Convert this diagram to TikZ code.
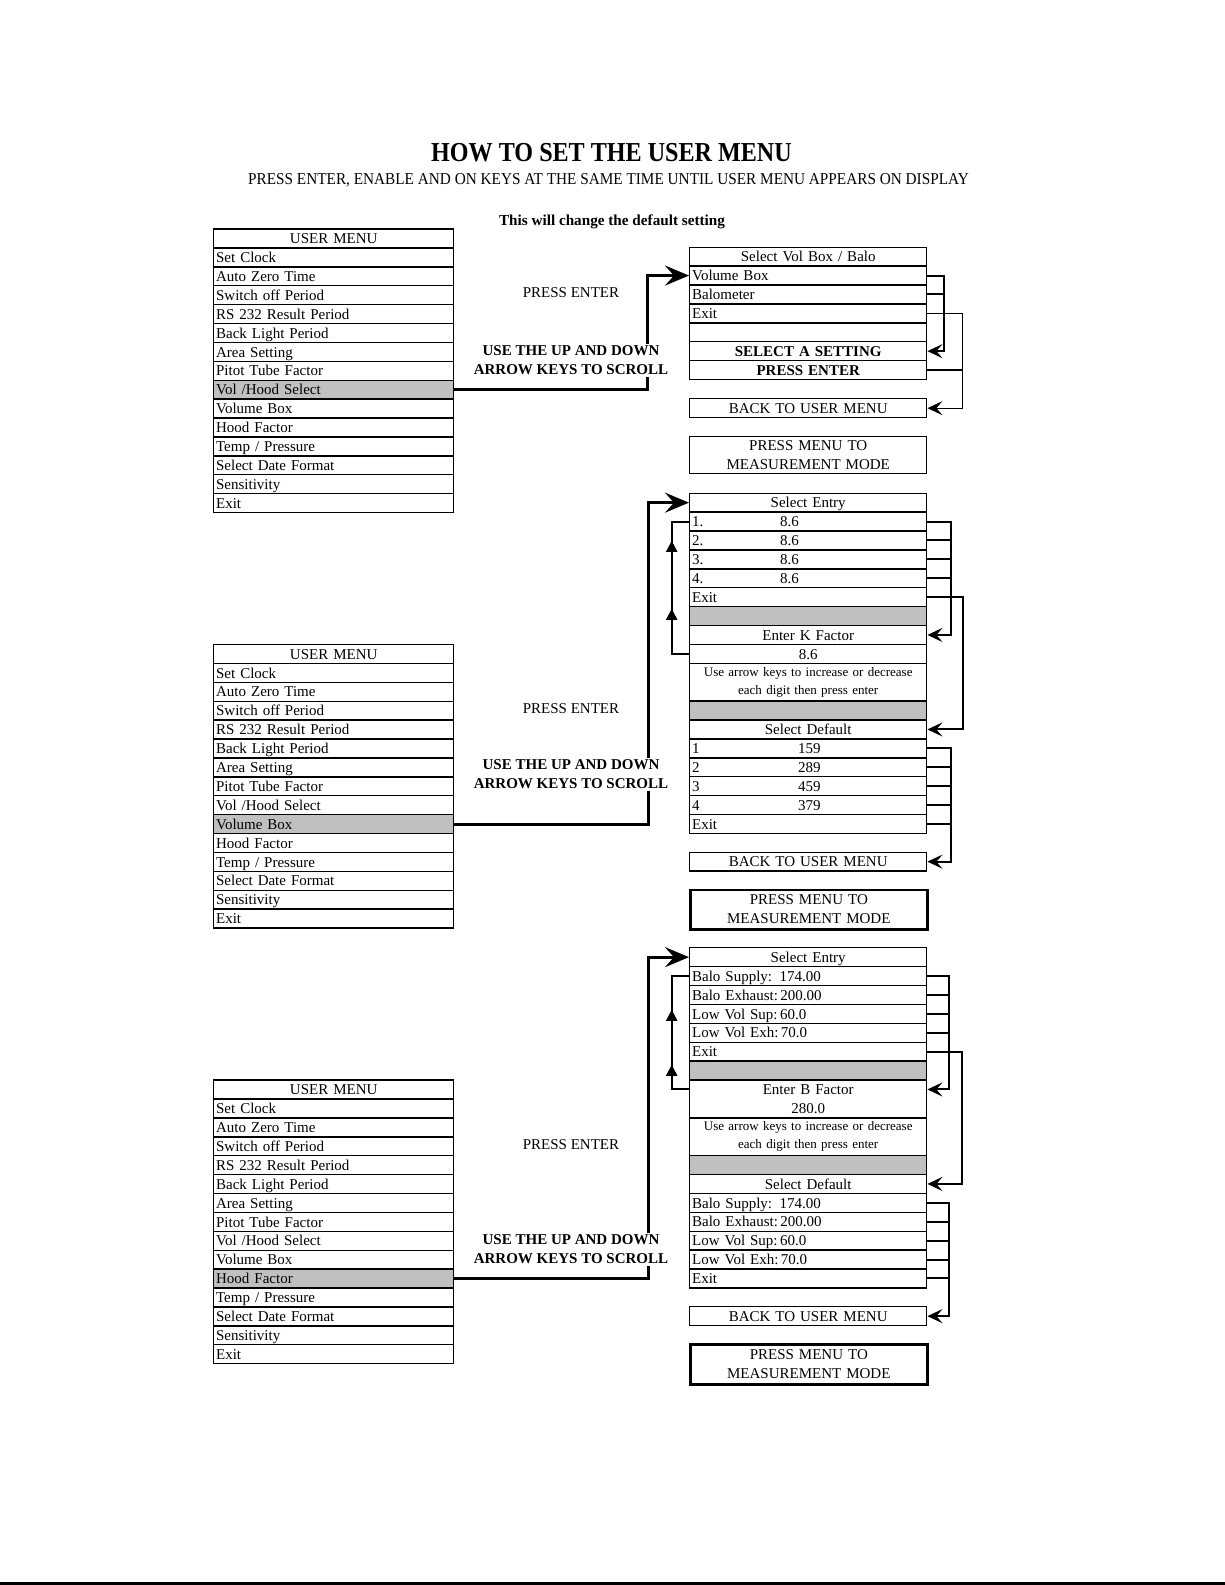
\documentclass[tikz,border=0pt]{standalone}
\usepackage{fontspec}
\setmainfont{Liberation Serif}
\newfontfamily\condserif[FakeStretch=0.88]{Liberation Serif}
\newfontfamily\subserif[FakeStretch=0.92]{Liberation Serif}
\usetikzlibrary{arrows.meta,decorations.markings}
\definecolor{cellgray}{RGB}{192,192,192}
\newcommand\cellfont{\fontsize{7.5pt}{9pt}\selectfont}
\newcommand\smallcellfont{\fontsize{6.5pt}{9pt}\selectfont}
\newcommand\twofont{\fontsize{7.5pt}{9.5pt}\selectfont}
\tikzset{
  base/.style={draw, line width=0.7pt, inner xsep=1.2pt, inner ysep=0pt, anchor=north west, font=\cellfont},
  lrow/.style={base, minimum width=120pt, text width=117.6pt, minimum height=9.45pt, text height=6.2pt, text depth=1pt, align=left},
  rbase/.style={base, minimum width=118.5pt, text width=116.1pt},
  rrow/.style={rbase, minimum height=9.45pt, text height=6.2pt, text depth=1pt, align=left},
  rrowc/.style={rrow, align=center},
  grayrow/.style={rrow, fill=cellgray},
  dblrow/.style={rbase, align=center, minimum height=18.9pt},
  boldrow/.style={rrowc, font=\cellfont\bfseries},
  modebox/.style={rbase, align=center, minimum height=#1, font=\twofont},
  conn/.style={line width=1pt},
  connthin/.style={line width=0.6pt},
  rarrow/.style={line width=1pt, -{Stealth[length=7.5pt,width=7pt,inset=3pt]}},
  rarrowthin/.style={line width=0.6pt, -{Stealth[length=7.5pt,width=7pt,inset=3pt]}},
  bigarrow/.style={line width=1.5pt, -{Stealth[length=12pt,width=10pt,inset=4.5pt]}},
  loopline/.style={line width=1pt, postaction={decorate}},
  midtext/.style={font=\cellfont, inner sep=1pt},
  midbold/.style={font=\twofont\bfseries, align=center, fill=white, inner sep=1pt},
}
\newcommand\usermenu[3]{%
  \node[lrow, align=center] (#1-0) at (213,#2) {USER MENU};
  \foreach \t [count=\i] in {Set Clock,Auto Zero Time,Switch off Period,RS 232 Result Period,Back Light Period,Area Setting,Pitot Tube Factor,Vol /Hood Select,Volume Box,Hood Factor,Temp / Pressure,Select Date Format,Sensitivity,Exit}{%
    \pgfmathsetmacro\yy{#2+\i*18.9}%
    \ifnum\i=#3\relax
      \node[lrow, fill=cellgray] (#1-\i) at (213,\yy) {\t};
    \else
      \node[lrow] (#1-\i) at (213,\yy) {\t};
    \fi
  }%
}
\begin{document}
\begin{tikzpicture}[x=0.5pt,y=-0.5pt]
\useasboundingbox (0,0) rectangle (1225,1585);

% title
\node[font=\condserif\bfseries\fontsize{13.7pt}{16pt}\selectfont] (title) at (611.5,152.6) {HOW TO SET THE USER MENU};
\node[font=\subserif\fontsize{8.3pt}{10pt}\selectfont] (subtitle) at (608.5,180) {PRESS ENTER, ENABLE AND ON KEYS AT THE SAME TIME UNTIL USER MENU APPEARS ON DISPLAY};
\node[font=\fontsize{7.6pt}{9pt}\selectfont\bfseries] (note) at (612,222) {This will change the default setting};

% left menus
\usermenu{m1}{228.3}{8}
\usermenu{m2}{643.8}{9}
\usermenu{m3}{1079.4}{10}

% ---- block 1
\node[rrowc] (b1h) at (689,246.5) {Select Vol Box / Balo};
\node[rrow] (b1a) at (689,265.4) {Volume Box};
\node[rrow] (b1b) at (689,284.3) {Balometer};
\node[rrow] (b1c) at (689,303.2) {Exit};
\node[rrow] (b1d) at (689,322.1) {};
\node[boldrow] (b1e) at (689,341.0) {SELECT A SETTING};
\node[boldrow] (b1f) at (689,359.9) {PRESS ENTER};
\node[rrowc] (b1back) at (689,398) {BACK TO USER MENU};
\node[modebox=18.75pt] (b1menu) at (689,435.5) {PRESS MENU TO\\MEASUREMENT MODE};

\draw[rarrow] (b1a.east) -- ++(17,0) |- (b1e.east);
\draw[conn] (b1b.east) -- ++(17,0);
\draw[rarrowthin] (b1c.east) -- ++(35,0) |- (b1back.east);
\draw[connthin] (b1f.east) -- ++(35,0);
\draw[bigarrow] (m1-8.east) -- ++(192.8,0) |- (b1a.west);

% ---- block 2
\node[rrowc] (b2h) at (689,492.5) {Select Entry};
\node[rrow] (b2r1) at (689,511.4) {\rlap{1.}\hspace*{44pt}8.6};
\node[rrow] (b2r2) at (689,530.3) {\rlap{2.}\hspace*{44pt}8.6};
\node[rrow] (b2r3) at (689,549.2) {\rlap{3.}\hspace*{44pt}8.6};
\node[rrow] (b2r4) at (689,568.1) {\rlap{4.}\hspace*{44pt}8.6};
\node[rrow] (b2r5) at (689,587.0) {Exit};
\node[grayrow] (b2g1) at (689,605.9) {};
\node[rrowc] (b2k) at (689,624.8) {Enter K Factor};
\node[rrowc] (b2v) at (689,643.7) {8.6};
\node[dblrow, font=\smallcellfont] (b2u) at (689,662.6) {Use arrow keys to increase or decrease\\each digit then press enter};
\node[grayrow] (b2g2) at (689,700.4) {};
\node[rrowc] (b2sd) at (689,719.3) {Select Default};
\node[rrow] (b2d1) at (689,738.2) {\rlap{1}\hspace*{53pt}159};
\node[rrow] (b2d2) at (689,757.1) {\rlap{2}\hspace*{53pt}289};
\node[rrow] (b2d3) at (689,776.0) {\rlap{3}\hspace*{53pt}459};
\node[rrow] (b2d4) at (689,794.9) {\rlap{4}\hspace*{53pt}379};
\node[rrow] (b2d5) at (689,813.8) {Exit};
\node[rrowc] (b2back) at (689,851.5) {BACK TO USER MENU};
\node[modebox=19.75pt, line width=1.3pt] (b2menu) at (689,888.5) {PRESS MENU TO\\MEASUREMENT MODE};

\draw[rarrow] (b2r1.east) -- ++(24,0) |- (b2k.east);
\foreach \n in {b2r2,b2r3,b2r4} \draw[conn] (\n.east) -- ++(24,0);
\draw[rarrow] (b2r5.east) -- ++(36,0) |- (b2sd.east);
\draw[rarrow] (b2d1.east) -- ++(24,0) |- (b2back.east);
\foreach \n in {b2d2,b2d3,b2d4,b2d5} \draw[conn] (\n.east) -- ++(24,0);
\draw[loopline, decoration={markings,
   mark=at position 31.2pt with {\arrow{Triangle[length=5.5pt,width=5.5pt]}},
   mark=at position 65.2pt with {\arrow{Triangle[length=5.5pt,width=5.5pt]}}}]
   (b2v.west) -- ++(-17.3,0) |- (b2r1.west);
\draw[bigarrow] (m2-9.east) -- ++(194,0) |- (b2h.west);

% ---- block 3
\node[rrowc] (b3h) at (689,947) {Select Entry};
\node[rrow] (b3r1) at (689,965.9) {Balo Supply: 174.00};
\node[rrow] (b3r2) at (689,984.8) {Balo Exhaust:\,200.00};
\node[rrow] (b3r3) at (689,1003.7) {Low Vol Sup:\,60.0};
\node[rrow] (b3r4) at (689,1022.6) {Low Vol Exh:\,70.0};
\node[rrow] (b3r5) at (689,1041.5) {Exit};
\node[grayrow] (b3g1) at (689,1060.4) {};
\node[dblrow, font=\fontsize{7.5pt}{9.3pt}\selectfont] (b3b) at (689,1079.3) {Enter B Factor\\280.0};
\node[dblrow, font=\smallcellfont] (b3u) at (689,1117.1) {Use arrow keys to increase or decrease\\each digit then press enter};
\node[grayrow] (b3g2) at (689,1154.9) {};
\node[rrowc] (b3sd) at (689,1173.8) {Select Default};
\node[rrow] (b3d1) at (689,1192.7) {Balo Supply: 174.00};
\node[rrow] (b3d2) at (689,1211.6) {Balo Exhaust:\,200.00};
\node[rrow] (b3d3) at (689,1230.5) {Low Vol Sup:\,60.0};
\node[rrow] (b3d4) at (689,1249.4) {Low Vol Exh:\,70.0};
\node[rrow] (b3d5) at (689,1268.3) {Exit};
\node[rrowc] (b3back) at (689,1306) {BACK TO USER MENU};
\node[modebox=20pt, line width=1.3pt] (b3menu) at (689,1343) {PRESS MENU TO\\MEASUREMENT MODE};

\draw[rarrow] (b3r1.east) -- ++(22,0) |- ([yshift=4.725pt]b3b.east);
\foreach \n in {b3r2,b3r3,b3r4} \draw[conn] (\n.east) -- ++(22,0);
\draw[rarrow] (b3r5.east) -- ++(35,0) |- (b3sd.east);
\draw[rarrow] (b3d1.east) -- ++(22,0) |- (b3back.east);
\foreach \n in {b3d2,b3d3,b3d4,b3d5} \draw[conn] (\n.east) -- ++(22,0);
\draw[loopline, decoration={markings,
   mark=at position 21pt with {\arrow{Triangle[length=5.5pt,width=5.5pt]}},
   mark=at position 48.5pt with {\arrow{Triangle[length=5.5pt,width=5.5pt]}}}]
   ([yshift=4.725pt]b3b.west) -- ++(-17.3,0) |- (b3r1.west);
\draw[bigarrow] (m3-10.east) -- ++(194,0) |- (b3h.west);

% middle texts
\node[midtext] (pe1) at (571,292.5) {PRESS ENTER};
\node[midbold] (ud1) at (571,360.4) {USE THE UP AND DOWN\\ARROW KEYS TO SCROLL};
\node[midtext] (pe2) at (571,708.5) {PRESS ENTER};
\node[midbold] (ud2) at (571,774.5) {USE THE UP AND DOWN\\ARROW KEYS TO SCROLL};
\node[midtext] (pe3) at (571,1145) {PRESS ENTER};
\node[midbold] (ud3) at (571,1249.5) {USE THE UP AND DOWN\\ARROW KEYS TO SCROLL};

% page edge line
\draw[line width=1.2pt] (0,1583.5) -- (1225,1583.5);
\end{tikzpicture}
\end{document}
